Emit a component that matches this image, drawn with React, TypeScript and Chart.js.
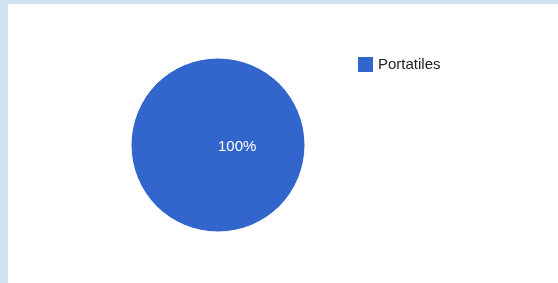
import React, { useEffect, useRef } from "react";
import { Chart, registerables } from "chart.js";

Chart.register(...registerables);

const categories = ["Portatiles"];
const values = [100];
const colors = ["#3366cc"];

const FONT = "'Liberation Sans', Arial, sans-serif";

const overlayPlugin = {
  id: "overlay",
  afterDatasetsDraw(chart: any) {
    const ctx = chart.ctx;
    const meta = chart.getDatasetMeta(0);
    const ds = chart.data.datasets[0];
    const total = (ds.data as number[]).reduce((a: number, b: number) => a + b, 0);
    ctx.save();
    // slice labels
    meta.data.forEach((arc: any, i: number) => {
      const v = ds.data[i] as number;
      const pct = Math.round((v / total) * 100) + "%";
      let x: number, y: number;
      if (v === total) {
        x = arc.x + arc.outerRadius * 0.22;
        y = arc.y + 2;
      } else {
        const mid = (arc.startAngle + arc.endAngle) / 2;
        x = arc.x + Math.cos(mid) * arc.outerRadius * 0.6;
        y = arc.y + Math.sin(mid) * arc.outerRadius * 0.6;
      }
      ctx.fillStyle = "#ffffff";
      ctx.font = `15px ${FONT}`;
      ctx.textAlign = "center";
      ctx.textBaseline = "middle";
      ctx.fillText(pct, x, y);
    });
    // outer white ring
    const a0: any = meta.data[0];
    if (a0) {
      ctx.beginPath();
      ctx.arc(a0.x, a0.y, a0.outerRadius, 0, Math.PI * 2);
      ctx.strokeStyle = "#ffffff";
      ctx.lineWidth = 1;
      ctx.stroke();
    }
    // legend
    const lx = 350;
    let ly = 53;
    chart.data.labels.forEach((lab: string, i: number) => {
      ctx.fillStyle = (ds.backgroundColor as string[])[i];
      ctx.fillRect(lx, ly, 15, 15);
      ctx.fillStyle = "#222222";
      ctx.font = `15px ${FONT}`;
      ctx.textAlign = "left";
      ctx.textBaseline = "middle";
      ctx.fillText(lab, lx + 20, ly + 8);
      ly += 24;
    });
    ctx.restore();
  },
};

export default function App() {
  const ref = useRef<HTMLCanvasElement | null>(null);
  useEffect(() => {
    if (!ref.current) return;
    const chart = new Chart(ref.current, {
      type: "pie",
      data: {
        labels: categories,
        datasets: [
          {
            data: values,
            backgroundColor: colors,
            borderColor: "#ffffff",
            borderWidth: 0,
          },
        ],
      },
      options: {
        animation: false,
        responsive: false,
        maintainAspectRatio: false,
        layout: { padding: { top: 54, bottom: 51, left: 123, right: 253 } },
        plugins: {
          legend: { display: false },
          tooltip: { enabled: false },
        },
      },
      plugins: [overlayPlugin],
    });
    return () => chart.destroy();
  }, []);
  return (
    <div
      style={{
        position: "fixed",
        left: 0,
        top: 0,
        width: 558,
        height: 283,
        background: "#cfe2f0",
      }}
    >
      <div
        style={{
          position: "absolute",
          left: 8,
          top: 4,
          width: 550,
          height: 279,
          background: "#ffffff",
        }}
      >
        <canvas ref={ref} width={550} height={279} style={{ display: "block" }} />
      </div>
    </div>
  );
}
